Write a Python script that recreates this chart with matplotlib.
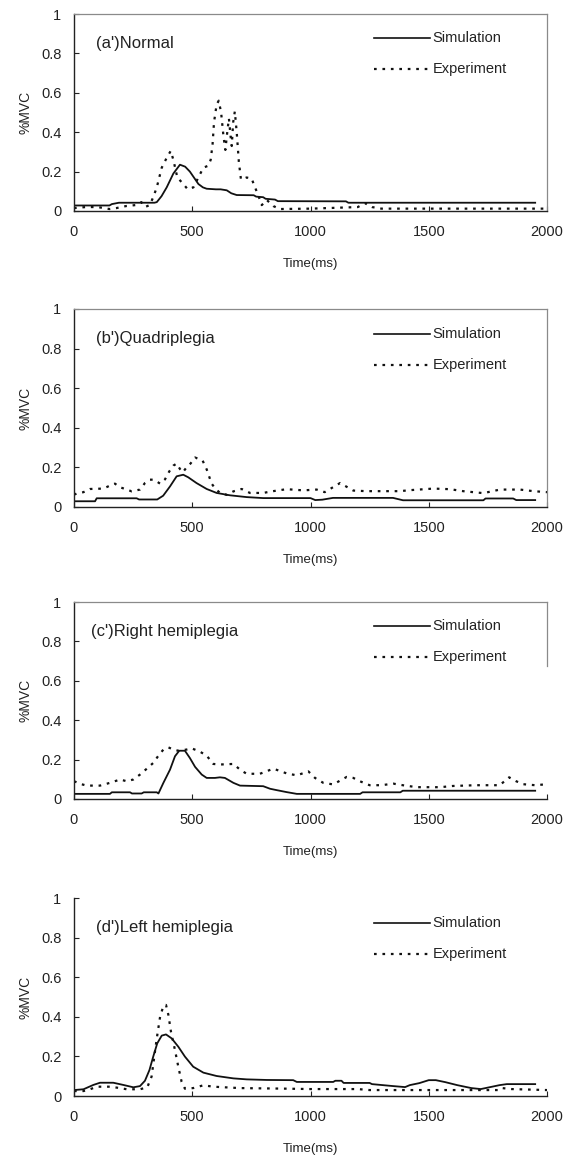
import matplotlib
matplotlib.use("Agg")
import matplotlib.pyplot as plt
from matplotlib.ticker import FuncFormatter

plt.rcParams['font.family'] = ['Liberation Sans', 'DejaVu Sans']

# ---------------- data ----------------
titles = ["(a')Normal", "(b')Quadriplegia", "(c')Right hemiplegia", "(d')Left hemiplegia"]
legend_labels = ["Simulation", "Experiment"]
x_ticks = [0, 500, 1000, 1500, 2000]
y_ticks = [0, 0.2, 0.4, 0.6, 0.8, 1.0]

# (a') Normal
sim_a_t = [0, 150, 160, 190, 340, 350, 370, 392, 420, 448, 470, 490, 510, 526, 545, 561, 600, 620, 646,
           665, 688, 760, 770, 800, 810, 850, 862, 1150, 1160, 1950]
sim_a_v = [0.028, 0.028, 0.035, 0.042, 0.042, 0.045, 0.075, 0.12, 0.19, 0.235, 0.225, 0.2, 0.165, 0.137,
           0.12, 0.113, 0.11, 0.11, 0.105, 0.09, 0.081, 0.08, 0.073, 0.07, 0.062, 0.058, 0.05, 0.049, 0.042, 0.042]
exp_a_t = [0, 50, 100, 150, 180, 220, 260, 285, 300, 320, 335, 350, 371, 392, 409, 420, 437, 460, 481, 505,
           530, 547, 568, 578, 586, 592, 603, 612, 622, 632, 640, 648, 655, 662, 667, 673, 680, 688, 697, 706,
           730, 751, 762, 779, 794, 815, 843, 870, 1000, 1200, 1230, 1260, 1300, 1500, 1800, 2000]
exp_a_v = [0.015, 0.02, 0.02, 0.01, 0.015, 0.025, 0.03, 0.045, 0.02, 0.03, 0.07, 0.12, 0.22, 0.27, 0.305,
           0.26, 0.17, 0.14, 0.11, 0.12, 0.18, 0.22, 0.23, 0.26, 0.34, 0.45, 0.54, 0.56, 0.50, 0.38, 0.31,
           0.40, 0.47, 0.38, 0.33, 0.45, 0.505, 0.40, 0.25, 0.16, 0.17, 0.165, 0.13, 0.08, 0.03, 0.056, 0.025,
           0.01, 0.012, 0.02, 0.04, 0.02, 0.012, 0.012, 0.012, 0.012]

# (b') Quadriplegia
sim_b_t = [0, 89, 96, 265, 275, 352, 377, 406, 434, 462, 483, 518, 561, 603, 660, 730, 800, 1000, 1020, 1050,
           1095, 1349, 1391, 1731, 1740, 1857, 1870, 1950]
sim_b_v = [0.029, 0.029, 0.044, 0.044, 0.038, 0.038, 0.057, 0.104, 0.155, 0.163, 0.15, 0.121, 0.091, 0.071,
           0.059, 0.05, 0.045, 0.045, 0.035, 0.037, 0.046, 0.046, 0.034, 0.034, 0.043, 0.043, 0.035, 0.035]
exp_b_t = [0, 11, 40, 68, 124, 152, 173, 194, 216, 244, 279, 300, 321, 338, 364, 385, 403, 420, 434, 448,
           460, 476, 493, 512, 544, 561, 572, 582, 596, 617, 646, 674, 709, 744, 800, 836, 899, 969, 1026,
           1060, 1125, 1181, 1235, 1300, 1378, 1420, 1519, 1590, 1645, 1731, 1801, 1886, 1942, 2000]
exp_b_v = [0.062, 0.068, 0.075, 0.091, 0.093, 0.108, 0.118, 0.10, 0.091, 0.079, 0.088, 0.121, 0.138, 0.138,
           0.118, 0.14, 0.18, 0.209, 0.219, 0.192, 0.175, 0.20, 0.22, 0.25, 0.234, 0.19, 0.152, 0.118, 0.095,
           0.071, 0.061, 0.079, 0.091, 0.071, 0.071, 0.079, 0.09, 0.084, 0.088, 0.075, 0.121, 0.083, 0.08,
           0.08, 0.08, 0.085, 0.093, 0.09, 0.08, 0.07, 0.088, 0.088, 0.08, 0.075]

# (c') Right hemiplegia
sim_c_t = [0, 152, 160, 237, 245, 286, 295, 350, 357, 378, 406, 427, 445, 469, 490, 512, 540, 561, 596, 617,
           638, 674, 702, 800, 829, 857, 899, 942, 1210, 1220, 1380, 1390, 1950]
sim_c_v = [0.026, 0.026, 0.034, 0.034, 0.028, 0.028, 0.034, 0.034, 0.028, 0.082, 0.149, 0.217, 0.245, 0.245,
           0.208, 0.163, 0.124, 0.107, 0.107, 0.11, 0.107, 0.082, 0.068, 0.065, 0.052, 0.045, 0.035, 0.026,
           0.026, 0.034, 0.034, 0.042, 0.042]
exp_c_t = [0, 11, 25, 54, 110, 152, 195, 223, 251, 279, 307, 335, 357, 378, 399, 420, 441, 476, 498, 533, 561,
           589, 617, 674, 702, 730, 786, 843, 899, 942, 991, 1019, 1054, 1096, 1153, 1181, 1209, 1250, 1300,
           1350, 1400, 1450, 1500, 1550, 1600, 1700, 1800, 1840, 1870, 1900, 1950, 2000]
exp_c_v = [0.09, 0.085, 0.077, 0.068, 0.068, 0.082, 0.099, 0.09, 0.099, 0.124, 0.153, 0.183, 0.22, 0.251,
           0.262, 0.251, 0.245, 0.251, 0.257, 0.24, 0.22, 0.178, 0.175, 0.178, 0.149, 0.128, 0.128, 0.154,
           0.13, 0.12, 0.14, 0.107, 0.082, 0.074, 0.112, 0.107, 0.09, 0.07, 0.07, 0.078, 0.068, 0.06, 0.06,
           0.06, 0.066, 0.07, 0.07, 0.11, 0.09, 0.075, 0.07, 0.075]

# (d') Left hemiplegia
sim_d_t = [0, 40, 82, 110, 166, 208, 251, 279, 300, 319, 335, 352, 371, 389, 413, 441, 469, 504, 547, 603,
           674, 730, 815, 927, 942, 1096, 1105, 1131, 1140, 1250, 1260, 1350, 1400, 1420, 1460, 1500, 1530,
           1570, 1620, 1680, 1720, 1760, 1800, 1830, 1950]
sim_d_v = [0.03, 0.034, 0.056, 0.067, 0.067, 0.056, 0.044, 0.05, 0.077, 0.131, 0.199, 0.266, 0.305, 0.311,
           0.291, 0.249, 0.199, 0.148, 0.118, 0.101, 0.089, 0.084, 0.081, 0.08, 0.071, 0.071, 0.077, 0.077,
           0.066, 0.066, 0.06, 0.05, 0.045, 0.055, 0.065, 0.08, 0.08, 0.07, 0.055, 0.04, 0.035, 0.045, 0.055,
           0.06, 0.06]
exp_d_t = [0, 40, 68, 96, 152, 195, 223, 279, 310, 328, 350, 364, 378, 389, 399, 410, 427, 441, 455, 469, 504,
           547, 589, 700, 900, 1000, 1200, 1250, 1800, 1810, 1850, 2000]
exp_d_v = [0.025, 0.025, 0.034, 0.047, 0.047, 0.04, 0.034, 0.034, 0.044, 0.098, 0.291, 0.40, 0.455, 0.46,
           0.41, 0.325, 0.232, 0.148, 0.072, 0.037, 0.04, 0.054, 0.047, 0.04, 0.037, 0.035, 0.035, 0.03, 0.03,
           0.04, 0.035, 0.03]

sims = [(sim_a_t, sim_a_v), (sim_b_t, sim_b_v), (sim_c_t, sim_c_v), (sim_d_t, sim_d_v)]
exps = [(exp_a_t, exp_a_v), (exp_b_t, exp_b_v), (exp_c_t, exp_c_v), (exp_d_t, exp_d_v)]

# ---------------- layout ----------------
W, H = 576, 1156
fig = plt.figure(figsize=(W / 100, H / 100), dpi=100)
left_px, right_px = 74, 547
panels_px = [(14, 211), (309, 507), (602, 799), (898, 1096)]
frame_modes = ["full", "full", "partial", "none"]
title_x = [94, 94, 72, 94]
frame_col = "#8a8a8a"

for i, (top, bot) in enumerate(panels_px):
    ax = fig.add_axes([left_px / W, 1 - bot / H, (right_px - left_px) / W, (bot - top) / H])
    st, sv = sims[i]
    et, ev = exps[i]
    ax.plot(st, sv, color="#111111", lw=1.3, solid_joinstyle="round")
    ax.plot(et, ev, color="#111111", lw=1.6, linestyle=(0, (1.2, 2.6)))
    ax.set_xlim(0, 2000)
    ax.set_ylim(0, 1)
    ax.set_xticks(x_ticks)
    ax.set_yticks(y_ticks)
    ax.yaxis.set_major_formatter(FuncFormatter(lambda v, p: "%g" % v))
    ax.tick_params(direction="in", length=3.5, width=0.8, labelsize=10.5, colors="#222222")
    ax.tick_params(axis="x", pad=10)
    ax.tick_params(axis="y", pad=9)
    for s in ["left", "bottom"]:
        ax.spines[s].set_color("#222222")
        ax.spines[s].set_linewidth(1.0)
    mode = frame_modes[i]
    if mode == "full":
        for s in ["top", "right"]:
            ax.spines[s].set_color(frame_col)
            ax.spines[s].set_linewidth(0.9)
    elif mode == "partial":
        ax.spines["top"].set_color(frame_col)
        ax.spines["top"].set_linewidth(0.9)
        ax.spines["right"].set_color(frame_col)
        ax.spines["right"].set_linewidth(0.9)
        ax.spines["right"].set_bounds(0.675, 1.0)
    else:
        ax.spines["top"].set_visible(False)
        ax.spines["right"].set_visible(False)
    ax.set_xlabel("Time(ms)", fontsize=9.5, labelpad=14, color="#222222")
    ax.set_ylabel("%MVC", fontsize=10, labelpad=6, color="#222222")
    ax.text(title_x[i], 0.85, titles[i], fontsize=12, va="center", ha="left", color="#222222")
    # legend drawn as data-space lines + labels
    ax.plot([1268, 1506], [0.876, 0.876], color="#111111", lw=1.2)
    ax.plot([1268, 1506], [0.719, 0.719], color="#111111", lw=1.6, linestyle=(0, (1.2, 2.6)))
    ax.text(1517, 0.876, legend_labels[0], fontsize=10.5, va="center", ha="left", color="#222222")
    ax.text(1517, 0.719, legend_labels[1], fontsize=10.5, va="center", ha="left", color="#222222")

fig.savefig("out.png", dpi=100, facecolor="white")
